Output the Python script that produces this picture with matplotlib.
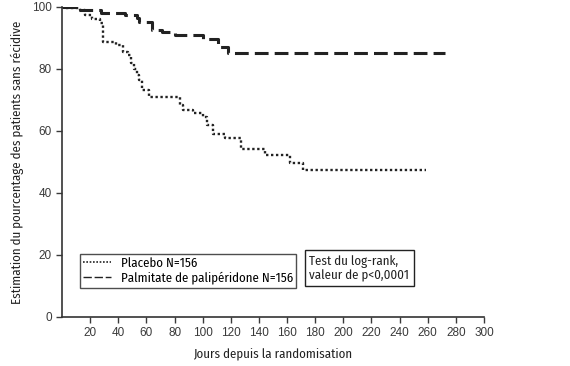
import matplotlib.pyplot as plt
from matplotlib.lines import Line2D

# Courbes de Kaplan-Meier
joursPlacebo = [0, 2, 13, 16, 21, 27, 29, 38, 43, 47, 49, 51, 53, 55, 57, 62, 84, 86, 93, 100, 103, 107, 116, 127, 144, 162, 171, 259]
survPlacebo = [100, 99.6, 99, 97.4, 96, 94.8, 88.8, 87.7, 85.6, 84.5, 82, 80, 78, 76.5, 73.2, 71, 68.4, 66.8, 65.9, 64.5, 62, 59, 57.7, 54.2, 52.3, 49.8, 47.4, 47.4]

joursPali = [0, 11, 28, 45, 53, 55, 64, 71, 80, 100, 111, 118, 272]
survPali = [100, 99, 98, 97.4, 96.4, 95.3, 92.6, 92, 91, 89.6, 87.2, 85.3, 85.3]

xTicks = [20, 40, 60, 80, 100, 120, 140, 160, 180, 200, 220, 240, 260, 280, 300]
yTicks = [0, 20, 40, 60, 80, 100]

police = ["Fira Sans Condensed", "DejaVu Sans"]
taille = 9.3

fig = plt.figure(figsize=(5.7, 3.66), dpi=100)
ax = fig.add_axes([0.109, 0.134, 0.740, 0.847])

ax.step(joursPlacebo, survPlacebo, where="post", color="#222222", lw=1.7,
        linestyle=(0, (1, 1.1)))
ax.step(joursPali, survPali, where="post", color="#222222", lw=2.2,
        linestyle=(0, (4.5, 2)))

ax.set_xlim(0, 300)
ax.set_ylim(0, 100)
ax.set_xticks(xTicks)
ax.set_yticks(yTicks)
ax.tick_params(labelsize=8.5, colors="#3a3a3a", length=4, width=1)
for lab in ax.get_xticklabels() + ax.get_yticklabels():
    lab.set_family("Liberation Sans")
ax.spines["top"].set_visible(False)
ax.spines["right"].set_visible(False)
for s in ("left", "bottom"):
    ax.spines[s].set_linewidth(1.2)
    ax.spines[s].set_color("#333333")

ax.set_xlabel("Jours depuis la randomisation", family=police, fontsize=taille,
              color="#222222", labelpad=6)
ax.set_ylabel("Estimation du pourcentage des patients sans récidive", family=police,
              fontsize=taille, color="#222222", labelpad=6)

# Légende
poignees = [
    Line2D([], [], color="#222222", lw=1.2, linestyle=(0, (1, 1))),
    Line2D([], [], color="#222222", lw=1.0, linestyle=(0, (6, 2))),
]
leg = ax.legend(poignees, ["Placebo N=156", "Palmitate de palipéridone N=156"],
                loc="lower left", bbox_to_anchor=(0.043, 0.095), frameon=True,
                fancybox=False, edgecolor="#222222", handlelength=2.1,
                handletextpad=0.8, borderpad=0.25, labelspacing=0.15,
                borderaxespad=0, prop={"family": police, "size": taille})
leg.get_frame().set_linewidth(1.0)

ax.text(0.586, 0.113, "Test du log-rank,\nvaleur de p<0,0001", transform=ax.transAxes,
        family=police, fontsize=taille, color="#222222",
        va="bottom", ha="left", linespacing=1.2,
        bbox=dict(boxstyle="square,pad=0.35", fc="white", ec="#222222", lw=1.0))

fig.savefig("out.png", dpi=100)
